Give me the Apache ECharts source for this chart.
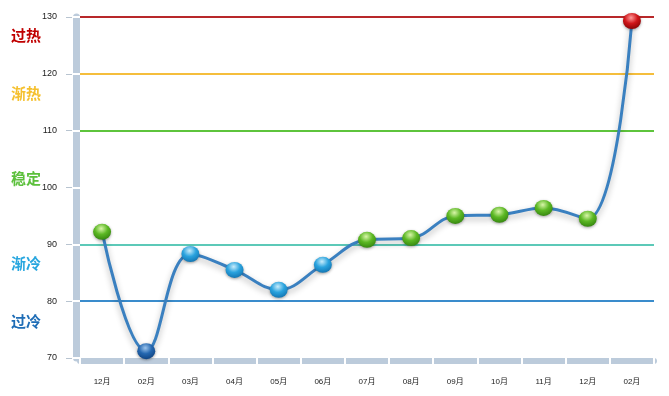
<!DOCTYPE html>
<html><head><meta charset="utf-8">
<script src="https://cdn.jsdelivr.net/npm/echarts@6/dist/echarts.min.js"></script>
<style>html,body{margin:0;padding:0;background:#fff}#c{width:669px;height:396px}</style>
</head><body><div id="c"></div>
<script>
const categories = ['12月','02月','03月','04月','05月','06月','07月','08月','09月','10月','11月','12月','02月'];
const values = [92.2, 71.2, 88.3, 85.5, 82.0, 86.4, 90.8, 91.1, 95.0, 95.2, 96.4, 94.5, 129.3];
const yTicks = [70, 80, 90, 100, 110, 120, 130];
const thresholds = [130, 120, 110, 90, 80];
const zoneNames = ['过热', '渐热', '稳定', '渐冷', '过冷'];

const lineColors = {130:'#b8282a', 120:'#f5be3c', 110:'#5ec43c', 90:'#5cc9b8', 80:'#3a8ccc'};
const zoneColors = ['#c00000', '#f5c02e', '#5cc03c', '#27a6df', '#1f6db6'];
const zoneY = [38, 96, 181, 266, 324];

function grad(c1, c2, c3){
  return new echarts.graphic.RadialGradient(0.45, 0.3, 0.8, [
    {offset:0, color:c1},{offset:0.45, color:c2},{offset:1, color:c3}]);
}
function ballColor(v){
  if (v >= 120) return grad('#ff9a9a', '#d0161a', '#7a0000');
  if (v >= 90) return grad('#d8f5a8', '#5cb824', '#2c7a0a');
  if (v >= 80) return grad('#c8ecfb', '#2aa3de', '#0d6aa8');
  return grad('#9cc4ec', '#2467b0', '#0b3c78');
}
const seriesData = values.map(v => ({value: v, itemStyle: {color: ballColor(v), borderWidth: 0,
  shadowColor:'rgba(0,0,0,0.35)', shadowBlur:3, shadowOffsetY:1}}));

const yMin = yTicks[0], yMax = yTicks[yTicks.length-1], yInt = yTicks[1]-yTicks[0];
const baseY = {type:'value', min:yMin, max:yMax, interval:yInt, position:'left', splitLine:{show:false}};

const chart = echarts.init(document.getElementById('c'), null, {renderer:'canvas'});
chart.setOption({
  animation:false,
  backgroundColor:'#fff',
  grid:{left:80, right:15, top:17, bottom:38},
  xAxis:[
    {type:'category', data:categories, boundaryGap:true, offset:3,
     axisLine:{show:true, lineStyle:{color:'#bccbdb', width:6}},
     axisTick:{show:false}, axisLabel:{show:false}},
    {type:'category', data:categories, boundaryGap:true, position:'bottom', offset:0,
     axisLine:{show:false},
     axisTick:{show:true, length:6, lineStyle:{color:'#fff', width:2}},
     axisLabel:{show:true, margin:20, fontSize:8, color:'#222', fontFamily:'Arial, "Noto Sans CJK SC"'}}
  ],
  yAxis:[
    Object.assign({}, baseY, {offset:3.5,
      axisLine:{show:true, lineStyle:{color:'#bccbdb', width:7}},
      axisTick:{show:false}, axisLabel:{show:false}}),
    Object.assign({}, baseY, {offset:7,
      axisLine:{show:false},
      axisTick:{show:true, inside:true, length:8, lineStyle:{color:'#fff', width:2}},
      axisLabel:{show:false}}),
    Object.assign({}, baseY, {offset:8,
      axisLine:{show:false},
      axisTick:{show:true, length:6, lineStyle:{color:'#b8c4d0', width:1}},
      axisLabel:{show:true, margin:15, fontSize:9, color:'#222', fontFamily:'Arial'}})
  ],
  series:[{
    type:'line', data:seriesData, smooth:0.4, xAxisIndex:1, yAxisIndex:0,
    symbol:'circle', symbolSize:[18,16], z:5,
    lineStyle:{color:'#3a80c0', width:3, shadowColor:'rgba(0,0,0,0.3)', shadowBlur:6, shadowOffsetY:3},
    markLine:{silent:true, symbol:'none', label:{show:false}, z:2,
      data: thresholds.map(t => ({yAxis:t, lineStyle:{color:lineColors[t], width:2, type:'solid'}}))}
  }],
  graphic: zoneNames.map((n,i) => ({type:'text', left:11, top:zoneY[i]-10, z:10,
    style:{text:n, fill:zoneColors[i], font:'bold 15px "Noto Sans CJK SC"'}}))
});
</script></body></html>
